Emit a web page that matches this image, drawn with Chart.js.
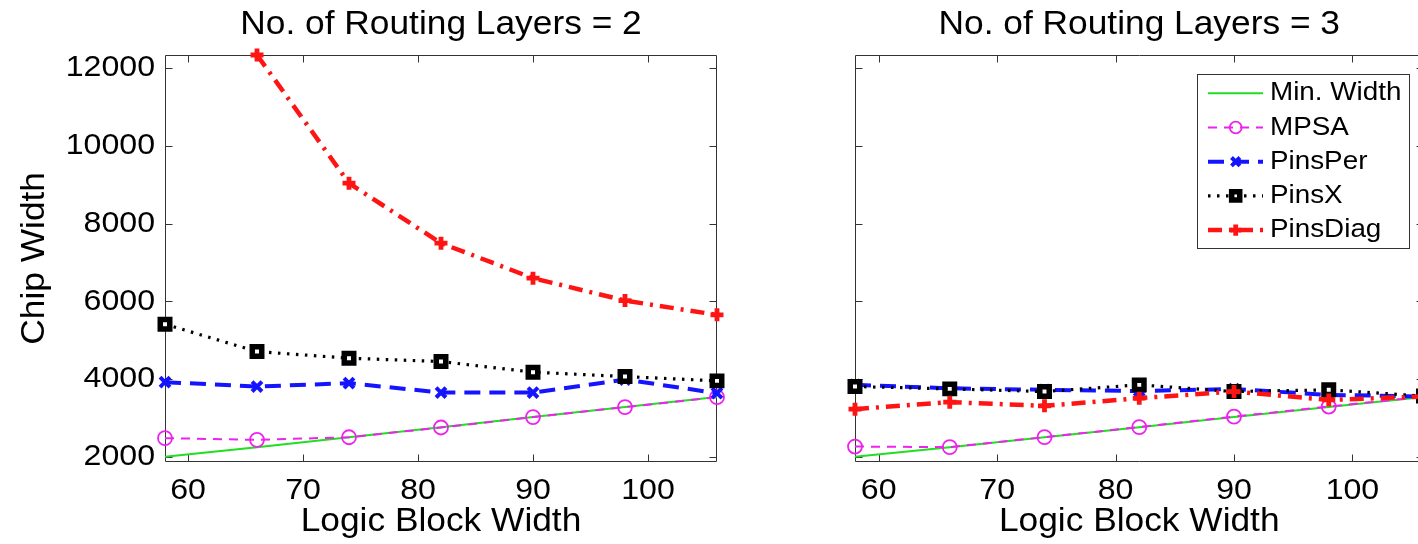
<!DOCTYPE html>
<html>
<head>
<meta charset="utf-8">
<script src="https://cdn.jsdelivr.net/npm/chart.js@4.4.1/dist/chart.umd.min.js"></script>
<style>
html, body { margin: 0; padding: 0; background: #fff; overflow: hidden; width: 1418px; height: 544px; }
#wrap { position: relative; width: 1418px; height: 544px; overflow: hidden; background: #fff; }
canvas { position: absolute; top: 0; }
</style>
</head>
<body>
<div id="wrap">
  <canvas id="c1" width="760" height="544" style="left:0px"></canvas>
  <canvas id="c2" width="680" height="544" style="left:760px"></canvas>
</div>
<script>
// ---------------- data ----------------
const logicBlockWidth = [58, 66, 74, 82, 90, 98, 106];
const xTickValues = [60, 70, 80, 90, 100];
const yTickValues = [2000, 4000, 6000, 8000, 10000, 12000];
const seriesNames = ['Min. Width', 'MPSA', 'PinsPer', 'PinsX', 'PinsDiag'];

const minWidth   = [2000, 2240, 2500, 2755, 3020, 3280, 3535];

// No. of Routing Layers = 2
const mpsa2      = [2476, 2432, 2500, 2750, 3018, 3275, 3532];
const pinsPer2   = [3918, 3805, 3892, 3650, 3650, 3985, 3635];
const pinsX2     = [5410, 4705, 4535, 4448, 4175, 4062, 3951];
const pinsDiag2  = [null, 12340, 9040, 7495, 6595, 6018, 5650];

// No. of Routing Layers = 3
const mpsa3      = [2260, 2245, 2502, 2760, 3030, 3290, 3540];
const pinsPer3   = [3848, 3760, 3720, 3690, 3740, 3590, 3550];
const pinsX3     = [3805, 3745, 3676, 3848, 3676, 3720, 3560];
const pinsDiag3  = [3223, 3403, 3308, 3506, 3676, 3460, 3547];

const X_MIN = 58, X_MAX = 106;
const Y_MIN = 1870, Y_MAX = 12340;

// ---------------- text rendering: slightly wide glyphs like the reference ----------------
const SX = 1.07;
const _fillText = CanvasRenderingContext2D.prototype.fillText;
CanvasRenderingContext2D.prototype.fillText = function (text, x, y, maxWidth) {
  this.save();
  this.translate(x, y);
  this.scale(SX, 1);
  if (maxWidth !== undefined && maxWidth !== null) _fillText.call(this, text, 0, 0, maxWidth / SX);
  else _fillText.call(this, text, 0, 0);
  this.restore();
};

const FONT = '"Liberation Sans", Arial, Helvetica, sans-serif';

// ---------------- styles ----------------
const styles = [
  { borderColor: '#22dd22', borderWidth: 2, borderDash: [], pointRadius: 0, pointStyle: 'circle', pointBorderWidth: 0, pointBackgroundColor: 'rgba(0,0,0,0)', order: 5 },
  { borderColor: '#ee22ee', borderWidth: 2, borderDash: [9, 7], pointRadius: 7, pointStyle: 'circle', pointBorderWidth: 1.8, pointBackgroundColor: 'rgba(0,0,0,0)', order: 4 },
  { borderColor: '#1414ff', borderWidth: 4, borderDash: [16, 9], pointRadius: 7, pointStyle: 'crossRot', pointBorderWidth: 4, pointBackgroundColor: 'rgba(0,0,0,0)', order: 3 },
  { borderColor: '#000000', borderWidth: 3.2, borderDash: [2.5, 6.5], pointRadius: 6.7, pointStyle: 'rect', pointBorderWidth: 5.5, pointBackgroundColor: '#ffffff', order: 2 },
  { borderColor: '#ff1414', borderWidth: 4.5, borderDash: [14, 7, 3, 7], pointRadius: 6.5, pointStyle: 'cross', pointBorderWidth: 4.8, pointBackgroundColor: '#ff1414', order: 1 }
];

function buildDatasets(seriesList) {
  return seriesList.map((vals, i) => Object.assign({
    label: seriesNames[i],
    data: logicBlockWidth.map((x, j) => ({ x: x, y: vals[j] })),
    pointBorderColor: styles[i].borderColor,
    tension: 0,
    fill: false,
    clip: false,
    spanGaps: false
  }, styles[i]));
}

// ---------------- plugins ----------------
const TICK = 7;
const matlabAxes = {
  id: 'matlabAxes',
  beforeDatasetsDraw(chart) {
    const { ctx, chartArea: a } = chart;
    const xs = chart.scales.x, ys = chart.scales.y;
    const L = Math.round(a.left) + 0.5, R = Math.round(a.right) - 0.5;
    const T = Math.round(a.top) + 0.5, B = Math.round(a.bottom) - 0.5;
    ctx.save();
    ctx.strokeStyle = '#333333';
    ctx.lineWidth = 1;
    ctx.setLineDash([]);
    ctx.beginPath();
    ctx.rect(L, T, R - L, B - T);
    xs.ticks.forEach(t => {
      const p = Math.round(xs.getPixelForValue(t.value)) + 0.5;
      ctx.moveTo(p, B); ctx.lineTo(p, B - TICK);
      ctx.moveTo(p, T); ctx.lineTo(p, T + TICK);
    });
    ys.ticks.forEach(t => {
      const p = Math.round(ys.getPixelForValue(t.value)) + 0.5;
      ctx.moveTo(L, p); ctx.lineTo(L + TICK, p);
      ctx.moveTo(R, p); ctx.lineTo(R - TICK, p);
    });
    ctx.stroke();
    ctx.restore();
  }
};

const matlabLegend = {
  id: 'matlabLegend',
  afterDraw(chart, args, o) {
    if (!o || !o.show) return;
    const ctx = chart.ctx;
    ctx.save();
    ctx.fillStyle = '#ffffff';
    ctx.fillRect(o.left, o.top, o.width, o.height);
    ctx.strokeStyle = '#333333';
    ctx.lineWidth = 1;
    ctx.setLineDash([]);
    ctx.strokeRect(Math.round(o.left) + 0.5, Math.round(o.top) + 0.5, o.width, o.height);
    chart.data.datasets.forEach((ds, i) => {
      const cy = o.firstRow + i * o.rowGap;
      ctx.save();
      ctx.setLineDash(ds.borderDash || []);
      ctx.lineWidth = ds.borderWidth;
      ctx.strokeStyle = ds.borderColor;
      ctx.beginPath();
      ctx.moveTo(o.lineX0, cy);
      ctx.lineTo(o.lineX1, cy);
      ctx.stroke();
      ctx.setLineDash([]);
      if (ds.pointRadius > 0) {
        ctx.fillStyle = ds.pointBackgroundColor;
        ctx.strokeStyle = ds.pointBorderColor;
        ctx.lineWidth = ds.pointBorderWidth;
        Chart.helpers.drawPoint(ctx, {
          pointStyle: ds.pointStyle, rotation: 0,
          radius: ds.pointRadius * o.markerScale, borderWidth: ds.pointBorderWidth
        }, o.markX, cy);
      }
      ctx.restore();
      ctx.fillStyle = '#000000';
      ctx.font = o.fontSize + 'px ' + FONT;
      ctx.textBaseline = 'middle';
      ctx.textAlign = 'left';
      ctx.fillText(ds.label, o.textX, cy);
    });
    ctx.restore();
  }
};

// ---------------- chart factory ----------------
function makeChart(id, titleText, seriesList, cfg) {
  return new Chart(document.getElementById(id), {
    type: 'line',
    data: { datasets: buildDatasets(seriesList) },
    options: {
      responsive: false,
      animation: false,
      events: [],
      layout: { padding: { left: 0, right: cfg.padRight, top: 0, bottom: 0 } },
      plugins: {
        legend: { display: false },
        tooltip: { enabled: false },
        title: {
          display: true, text: titleText, fullSize: false, color: '#000000',
          font: { family: FONT, size: 33, weight: 'normal' },
          padding: { top: 4.8, bottom: 10.6 }
        },
        matlabLegend: cfg.legend || { show: false }
      },
      scales: {
        x: {
          type: 'linear', min: X_MIN, max: X_MAX,
          grid: { display: false, drawTicks: false },
          border: { display: false },
          afterBuildTicks: s => { s.ticks = xTickValues.map(v => ({ value: v })); },
          afterFit: s => { s.height = 82.3; },
          ticks: {
            padding: 10.8, color: '#000000', autoSkip: false, maxRotation: 0,
            font: { family: FONT, size: 30 },
            callback: v => String(v)
          },
          title: {
            display: true, text: 'Logic Block Width', color: '#000000',
            font: { family: FONT, size: 33 },
            padding: { top: 0, bottom: 2.6 }
          }
        },
        y: {
          type: 'linear', min: Y_MIN, max: Y_MAX,
          grid: { display: false, drawTicks: false },
          border: { display: false },
          afterBuildTicks: s => { s.ticks = yTickValues.map(v => ({ value: v })); },
          afterFit: s => { s.width = cfg.yWidth; },
          ticks: {
            display: cfg.yLabels, padding: 10, color: '#000000', autoSkip: false,
            font: { family: FONT, size: 30 },
            callback: v => String(v)
          },
          title: {
            display: cfg.yLabels, text: 'Chip Width', color: '#000000',
            font: { family: FONT, size: 33 },
            padding: { top: 15.5, bottom: 0 }
          }
        }
      }
    },
    plugins: [matlabAxes, matlabLegend]
  });
}

makeChart('c1', 'No. of Routing Layers = 2',
  [minWidth, mpsa2, pinsPer2, pinsX2, pinsDiag2],
  { padRight: 43, yWidth: 165, yLabels: true });

makeChart('c2', 'No. of Routing Layers = 3',
  [minWidth, mpsa3, pinsPer3, pinsX3, pinsDiag3],
  {
    padRight: 16.5, yWidth: 95, yLabels: false,
    legend: {
      show: true, left: 437, top: 74, width: 212, height: 174,
      firstRow: 93.3, rowGap: 34.2, lineX0: 448, lineX1: 503, markX: 475.7,
      textX: 510, fontSize: 26, markerScale: 0.85
    }
  });
</script>
</body>
</html>
